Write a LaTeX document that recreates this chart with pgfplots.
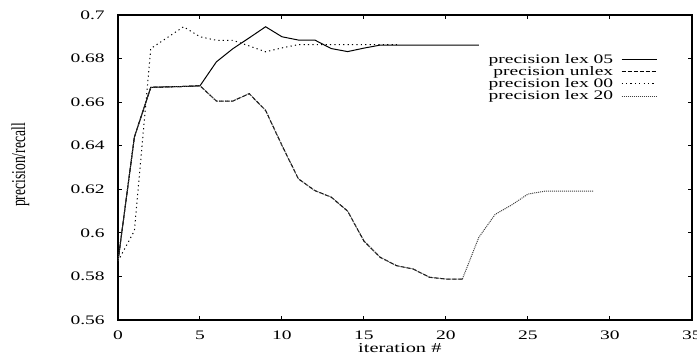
\documentclass[border=0pt]{standalone}
\usepackage{fontspec}
\setmainfont{Liberation Serif}[FakeStretch=1.5]
\newfontfamily\plainserif{Liberation Serif}
\usepackage{pgfplots}
\pgfplotsset{compat=1.18}
\begin{document}
\fontsize{6.5}{7.5}\selectfont
\begin{tikzpicture}
\begin{axis}[
  scale only axis,
  width=287pt, height=152.5pt,
  xmin=0, xmax=35, ymin=0.56, ymax=0.7,
  xtick={0,5,10,15,20,25,30,35},
  ytick={0.56,0.58,0.6,0.62,0.64,0.66,0.68,0.7},
  tick pos=both, tick align=inside,
  major tick length=2pt,
  axis line style={line width=0.6pt},
  every tick/.style={black, line width=0.5pt},
  /pgf/number format/assume math mode=true,
  tick label style={font=\fontsize{6.5}{7.5}\selectfont},
  xticklabel style={yshift=-3.2pt},
  yticklabel style={xshift=-4.3pt},
  xlabel={iteration \#},
  ylabel={\plainserif precision/recall},
  label style={font=\fontsize{6.8}{7.5}\selectfont},
  xlabel style={at={(axis description cs:0.491,0)}, anchor=center, yshift=-14pt},
  ylabel style={at={(axis description cs:-0.1699,0.508)}, anchor=center, yscale=1.45},
  legend plot pos=right,
  legend cell align=right,
  legend image code/.code={\draw[#1] (0pt,0pt) -- (17.5pt,0pt);},
  legend style={draw=none, fill=none, at={(axis description cs:0.94,0.875)}, anchor=north east,
    inner sep=0pt, row sep=0pt, column sep=3pt, font=\fontsize{6.5}{7.5}\selectfont,
    nodes={inner ysep=0.3pt, inner xsep=1pt}},
]
\addplot[black, line width=0.5pt] coordinates {
(0,0.587) (1,0.644) (2,0.6668) (3,0.667) (4,0.6672) (5,0.6675) (6,0.6785) (7,0.6845)
(8,0.6895) (9,0.6946) (10,0.6900) (11,0.6885) (12,0.6885) (13,0.6846) (14,0.6832)
(15,0.6848) (16,0.6862) (17,0.6862) (18,0.6862) (19,0.6862) (20,0.6862) (21,0.6862) (22,0.6862)};
\addlegendentry{precision lex 05}
\addplot[black, line width=0.5pt, dash pattern=on 2pt off 1pt] coordinates {
(0,0.587) (1,0.644) (2,0.6668) (3,0.667) (4,0.6672) (5,0.6675) (6,0.6605) (7,0.6605)
(8,0.6639) (9,0.6562) (10,0.6401) (11,0.6248) (12,0.6194) (13,0.6164) (14,0.6100)
(15,0.5962) (16,0.5887) (17,0.5849) (18,0.5834) (19,0.5796) (20,0.5788) (21,0.5788)};
\addlegendentry{precision unlex}
\addplot[black, line width=0.5pt, dash pattern=on 0.6pt off 1.6pt] coordinates {
(0,0.587) (1,0.601) (2,0.6846) (3,0.6896) (4,0.6946) (5,0.6900) (6,0.6884) (7,0.6884)
(8,0.6858) (9,0.6831) (10,0.6849) (11,0.6864) (12,0.6864) (13,0.6864) (14,0.6864)
(15,0.6864) (16,0.6864) (17,0.6864)};
\addlegendentry{precision lex 00}
\addplot[black!75, line width=0.5pt, dash pattern=on 0.5pt off 0.5pt] coordinates {
(0,0.587) (1,0.644) (2,0.6668) (3,0.667) (4,0.6672) (5,0.6675) (6,0.6605) (7,0.6605)
(8,0.6639) (9,0.6562) (10,0.6401) (11,0.6248) (12,0.6194) (13,0.6164) (14,0.6100)
(15,0.5962) (16,0.5887) (17,0.5849) (18,0.5834) (19,0.5796) (20,0.5788) (21,0.5788)
(22,0.5979) (23,0.6085) (24,0.6128) (25,0.6178) (26,0.6191) (27,0.6191) (28,0.6191) (29,0.6191)};
\addlegendentry{precision lex 20}
\end{axis}
\pgfresetboundingbox
\path[use as bounding box] (-59pt,-16.5pt) rectangle (289.5pt,160pt);
\end{tikzpicture}
\end{document}
